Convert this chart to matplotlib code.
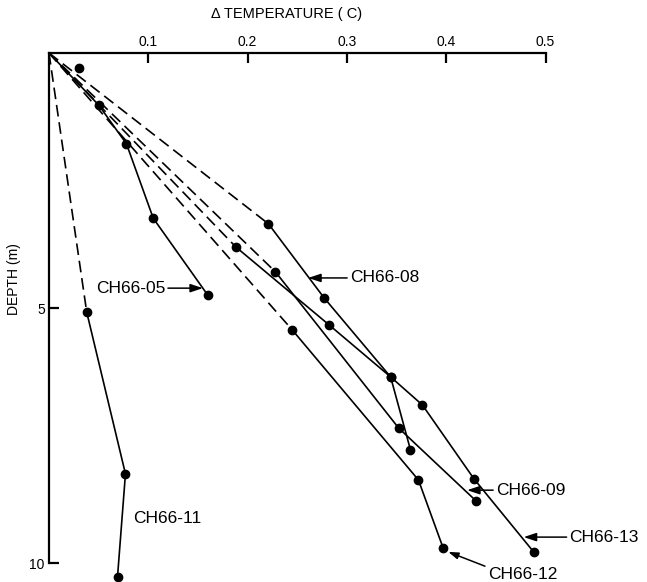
import matplotlib
matplotlib.use("Agg")
import matplotlib.pyplot as plt

plt.rcParams['font.family'] = ['Liberation Sans', 'DejaVu Sans']

# Data: (delta temperature C, depth m)
ch05_t = [0.0, 0.030, 0.050, 0.078, 0.105, 0.160]
ch05_d = [0.0, 0.29, 1.02, 1.78, 3.24, 4.75]

ch11_t = [0.0, 0.038, 0.077, 0.069]
ch11_d = [0.0, 5.08, 8.25, 10.27]

ch08_t = [0.0, 0.221, 0.277, 0.344, 0.364]
ch08_d = [0.0, 3.35, 4.80, 6.35, 7.78]

ch13_t = [0.0, 0.188, 0.282, 0.344, 0.376, 0.428, 0.488]
ch13_d = [0.0, 3.80, 5.33, 6.35, 6.90, 8.35, 9.78]

ch09_t = [0.0, 0.228, 0.352, 0.430]
ch09_d = [0.0, 4.29, 7.35, 8.78]

ch12_t = [0.0, 0.245, 0.372, 0.397]
ch12_d = [0.0, 5.43, 8.37, 9.71]

xticks = [0.1, 0.2, 0.3, 0.4, 0.5]
xtick_labels = ['0.1', '0.2', '0.3', '0.4', '0.5']
yticks = [5, 10]
ytick_labels = ['5', '10']

fig = plt.figure(figsize=(6.47, 5.82), dpi=100)
ax = fig.add_axes([0.0757, 0.0, 0.921, 0.909])
ax.set_xlim(0, 0.6)
ax.set_ylim(10.37, 0)

lw = 1.2
dash = (7, 3.5)
ms = 6

def profile(t, d, dashed_first=True, dashed_n=1):
    # dashed from origin to first measured point, solid afterwards
    ax.plot(t[:dashed_n + 1], d[:dashed_n + 1], color='black', lw=lw,
            dashes=dash if dashed_first else (None, None), clip_on=False)
    ax.plot(t[dashed_n:], d[dashed_n:], color='black', lw=lw, clip_on=False)
    ax.plot(t[1:], d[1:], 'o', color='black', ms=ms, clip_on=False)

# CH66-05: the shallowest reading sits off the drawn line
ax.plot([ch05_t[0]] + ch05_t[2:], [ch05_d[0]] + ch05_d[2:], color='black', lw=lw)
ax.plot(ch05_t[1:], ch05_d[1:], 'o', color='black', ms=ms)

profile(ch11_t, ch11_d)
profile(ch08_t, ch08_d)
profile(ch13_t, ch13_d)
profile(ch09_t, ch09_d)
profile(ch12_t, ch12_d)

# spines & ticks
for s in ['right', 'bottom']:
    ax.spines[s].set_visible(False)
ax.spines['top'].set_bounds(0, 0.5)
ax.spines['left'].set_bounds(0, 10)
ax.spines['top'].set_linewidth(1.6)
ax.spines['left'].set_linewidth(1.6)
ax.xaxis.tick_top()
ax.set_xticks(xticks)
ax.set_xticklabels(xtick_labels)
ax.set_yticks(yticks)
ax.set_yticklabels(ytick_labels)
ax.tick_params(axis='x', direction='in', length=7, width=1.6, labelsize=10, pad=3)
ax.tick_params(axis='y', direction='in', length=7, width=1.6, labelsize=10, pad=3)

ax.text(0.239, -0.62, 'Δ TEMPERATURE ( C)', ha='center', va='bottom', fontsize=10.5)
fig.text(0.022, 0.52, 'DEPTH (m)', rotation=90, ha='center', va='center', fontsize=10)

arrow = dict(arrowstyle='-|>,head_length=0.6,head_width=0.2', color='black', lw=1.1,
             shrinkA=0, shrinkB=0)
lab_fs = 12.5
ax.annotate('CH66-05', xy=(0.155, 4.61), xytext=(0.117, 4.61), ha='right', va='center',
            fontsize=lab_fs, arrowprops=arrow)
ax.annotate('CH66-08', xy=(0.261, 4.41), xytext=(0.303, 4.41), ha='left', va='center',
            fontsize=lab_fs, arrowprops=arrow)
ax.annotate('CH66-09', xy=(0.421, 8.57), xytext=(0.450, 8.57), ha='left', va='center',
            fontsize=lab_fs, arrowprops=arrow)
ax.annotate('CH66-13', xy=(0.478, 9.49), xytext=(0.524, 9.49), ha='left', va='center',
            fontsize=lab_fs, arrowprops=arrow)
ax.annotate('', xy=(0.402, 9.78), xytext=(0.439, 10.06), arrowprops=arrow)
ax.text(0.442, 10.22, 'CH66-12', ha='left', va='center', fontsize=lab_fs)
ax.text(0.085, 9.12, 'CH66-11', ha='left', va='center', fontsize=lab_fs)

fig.savefig('out.png', dpi=100)
